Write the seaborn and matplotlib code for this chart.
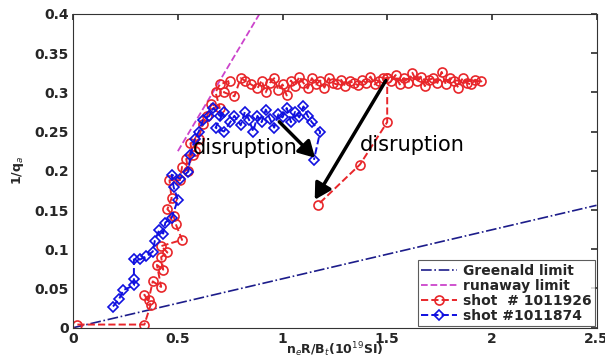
import numpy as np
import pandas as pd
import matplotlib
matplotlib.use("Agg")
import matplotlib.pyplot as plt
import seaborn as sns

# shot #1011926 (red)
red_x = [0.02, 0.34, 0.37, 0.34, 0.36, 0.38, 0.42, 0.40, 0.43, 0.42, 0.45, 0.42, 0.52, 0.49,
         0.48, 0.45, 0.47, 0.46, 0.51, 0.52, 0.55, 0.54, 0.57, 0.56, 0.60, 0.58,
         0.62, 0.64, 0.66, 0.70, 0.68, 0.70, 0.75, 0.72, 0.77, 0.80, 0.82, 0.85, 0.88, 0.90,
         0.92, 0.94, 0.96, 0.98, 1.00, 1.02, 1.04, 1.06, 1.08, 1.10, 1.12, 1.14, 1.16, 1.18,
         1.20, 1.22, 1.24, 1.26, 1.28, 1.30, 1.32, 1.34, 1.36, 1.38, 1.40, 1.42, 1.44, 1.46,
         1.48, 1.50, 1.52, 1.54, 1.56, 1.58, 1.60, 1.62, 1.64, 1.66, 1.68, 1.70, 1.72, 1.74,
         1.76, 1.78, 1.80, 1.82, 1.84, 1.86, 1.88, 1.90, 1.92, 1.95, 1.50, 1.50, 1.37, 1.17]
red_y = [0.004, 0.004, 0.029, 0.042, 0.035, 0.059, 0.052, 0.080, 0.074, 0.090, 0.096, 0.104,
         0.112, 0.132, 0.142, 0.151, 0.165, 0.188, 0.188, 0.205, 0.200, 0.215,
         0.220, 0.235, 0.240, 0.225, 0.260, 0.270, 0.285, 0.280, 0.300, 0.310, 0.315, 0.300,
         0.295, 0.318, 0.315, 0.310, 0.305, 0.315, 0.300, 0.312, 0.318, 0.303, 0.310, 0.296,
         0.315, 0.308, 0.320, 0.312, 0.305, 0.318, 0.310, 0.315, 0.306, 0.318, 0.312, 0.310,
         0.316, 0.308, 0.314, 0.312, 0.309, 0.316, 0.312, 0.320, 0.310, 0.314, 0.318, 0.318,
         0.315, 0.322, 0.310, 0.318, 0.312, 0.325, 0.314, 0.320, 0.308, 0.316, 0.318, 0.312,
         0.326, 0.310, 0.318, 0.314, 0.306, 0.318, 0.312, 0.310, 0.316, 0.314, 0.318, 0.262,
         0.208, 0.157]

# shot #1011874 (blue)
blue_x = [0.19, 0.22, 0.24, 0.29, 0.29, 0.29, 0.32, 0.35, 0.38, 0.39, 0.41, 0.43, 0.44, 0.47,
          0.50, 0.48, 0.47, 0.51, 0.55, 0.56, 0.58, 0.60, 0.62, 0.65,
          0.67, 0.70, 0.72, 0.68, 0.72, 0.75, 0.77, 0.80, 0.82, 0.84, 0.86, 0.88, 0.90, 0.92,
          0.94, 0.96, 0.98, 1.00, 1.02, 1.04, 1.06, 1.08, 1.10, 1.12, 1.14, 1.18, 1.15]
blue_y = [0.027, 0.037, 0.048, 0.054, 0.062, 0.087, 0.087, 0.091, 0.097, 0.111, 0.124, 0.120,
          0.134, 0.140, 0.163, 0.179, 0.195, 0.190, 0.199, 0.220,
          0.240, 0.250, 0.265, 0.270, 0.280, 0.270, 0.275, 0.255, 0.250, 0.262, 0.270, 0.258,
          0.275, 0.265, 0.250, 0.270, 0.262, 0.278, 0.266, 0.255, 0.272, 0.268, 0.280, 0.262,
          0.275, 0.268, 0.282, 0.270, 0.262, 0.250, 0.214]

# limits
green_x = [0.0, 2.5]
green_y = [0.0, 0.156]
run_x = [0.50, 0.89]
run_y = [0.225, 0.40]

sns.set_theme(style="white")
plt.rcParams['font.family'] = ['DejaVu Sans']

fig = plt.figure(figsize=(6.05, 3.56), dpi=100)
ax = fig.add_axes([0.121, 0.0795, 0.865, 0.8815])

kw = dict(ax=ax, sort=False, estimator=None)
sns.lineplot(x=green_x, y=green_y, color='#1c1c8a', linestyle='-.', lw=1.2,
             label='Greenald limit', **kw)
sns.lineplot(x=run_x, y=run_y, color='#cc44cc', linestyle='--', lw=1.3,
             label='runaway limit', **kw)
sns.lineplot(x=red_x, y=red_y, color='#e8262a', linestyle='--', lw=1.4,
             marker='o', markersize=6.5, markerfacecolor='none', markeredgecolor='#e8262a',
             markeredgewidth=1.2, label='shot  # 1011926', **kw)
sns.lineplot(x=blue_x, y=blue_y, color='#1010e0', linestyle='--', lw=1.4,
             marker='D', markersize=5, markerfacecolor='none', markeredgecolor='#1010e0',
             markeredgewidth=1.2, label='shot #1011874', **kw)

ax.annotate('', xy=(1.165, 0.214), xytext=(0.975, 0.265),
            arrowprops=dict(arrowstyle='-|>,head_length=0.8,head_width=0.45', color='black', lw=2.5))
ax.annotate('', xy=(1.147, 0.160), xytext=(1.5, 0.318),
            arrowprops=dict(arrowstyle='-|>,head_length=0.8,head_width=0.45', color='black', lw=2.5))
ax.text(0.82, 0.229, 'disruption', ha='center', va='center', fontsize=15, color='black')
ax.text(1.62, 0.233, 'disruption', ha='center', va='center', fontsize=15, color='black')

ax.set_xlim(0, 2.5)
ax.set_ylim(0, 0.4)
ax.set_xticks([0, 0.5, 1, 1.5, 2, 2.5])
ax.set_xticklabels(['0', '0.5', '1', '1.5', '2', '2.5'])
ax.set_yticks([0, 0.05, 0.1, 0.15, 0.2, 0.25, 0.3, 0.35, 0.4])
ax.set_yticklabels(['0', '0.05', '0.1', '0.15', '0.2', '0.25', '0.3', '0.35', '0.4'])
ax.tick_params(direction='in', length=4, top=True, right=True, labelsize=10, pad=3,
               color='#333333')
for lab in ax.get_xticklabels() + ax.get_yticklabels():
    lab.set_fontweight('bold')
for s in ax.spines.values():
    s.set_color('#333333')
    s.set_linewidth(0.8)
ax.set_xlabel(r'n$_e$R/B$_t$(10$^{19}$SI)', fontsize=9, fontweight='bold', labelpad=-4)
ax.set_ylabel(r'1/q$_a$', fontsize=9, fontweight='bold', labelpad=6)

leg = ax.legend(loc='lower right', prop={'size': 10, 'weight': 'bold'}, frameon=True,
                fancybox=False, edgecolor='#333333', borderpad=0.25, labelspacing=0.08,
                handlelength=2.6, handletextpad=0.4, borderaxespad=0.1)
leg.get_frame().set_linewidth(0.8)

fig.savefig('out.png', dpi=100)
